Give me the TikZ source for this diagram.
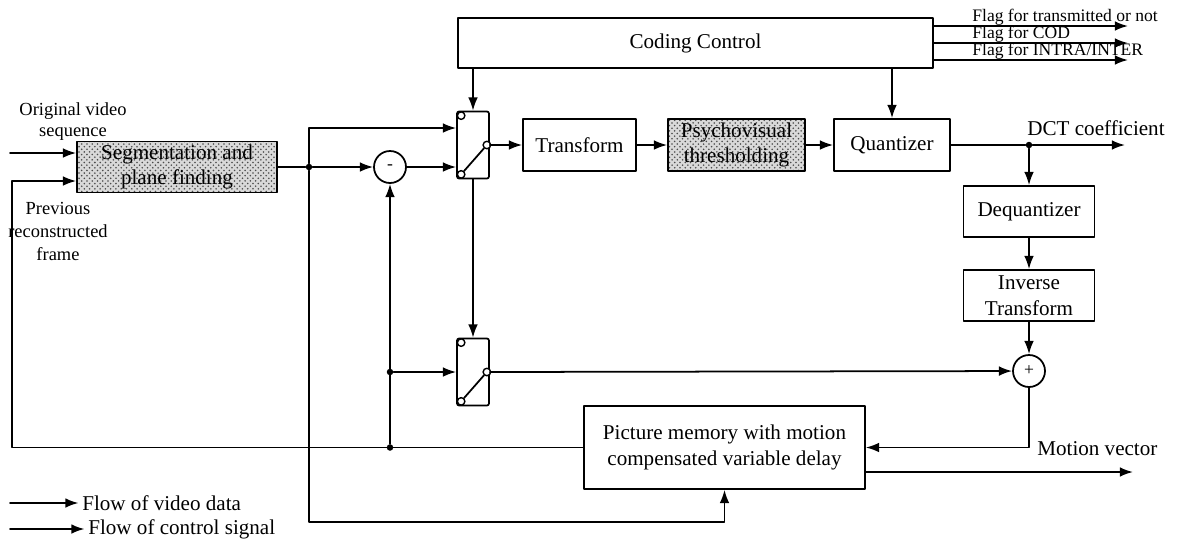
\documentclass[tikz,border=0pt]{standalone}
\usepackage{fontspec}
\setmainfont{Liberation Serif}
\usetikzlibrary{arrows.meta,patterns}

\begin{document}
\begin{tikzpicture}[x=0.02cm,y=-0.02cm,line cap=round,line join=round,>={Latex[length=7.5pt,width=5.5pt]},
  blk/.style={draw,line width=1pt,align=center,inner sep=0pt,font=\fontsize{12}{14.5}\selectfont},
  grain/.style={blk,preaction={fill=black!15},pattern=crosshatch dots,pattern color=black!70},
  swbox/.style={draw,line width=1pt,rounded corners=1.2pt,minimum width=0.64cm,minimum height=1.34cm,inner sep=0pt},
  pin/.style={circle,draw,line width=0.8pt,fill=white,inner sep=0pt,minimum size=0.15cm},
  sum/.style={circle,draw,line width=1pt,inner sep=0pt,minimum size=0.64cm,font=\fontsize{10}{10}\selectfont},
  dot/.style={circle,fill,inner sep=0pt,minimum size=0.13cm},
  flow/.style={line width=1pt,->},
  wire/.style={line width=1pt},
  lbl/.style={align=center,inner sep=0pt,font=\fontsize{10.5}{12}\selectfont},
  flagtxt/.style={anchor=base west,inner sep=0pt,font=\fontsize{10}{10}\selectfont},
  ttl/.style={inner sep=0pt,font=\fontsize{12}{14}\selectfont}]
  \useasboundingbox (0,0) rectangle (1180,542);

  % blocks
  \node[blk,minimum width=9.5cm,minimum height=1cm] (ctrl) at (695.5,43) {Coding Control};
  \node[grain,minimum width=4cm,minimum height=1.02cm] (seg) at (177,167) {Segmentation and\\plane finding};
  \node[blk,minimum width=2.26cm,minimum height=1.04cm] (tr) at (579.5,145) {Transform};
  \node[grain,minimum width=2.74cm,minimum height=1.04cm] (psy) at (736.5,145) {Psychovisual\\thresholding};
  \node[blk,minimum width=2.32cm,minimum height=1.04cm] (quant) at (892,145) {Quantizer};
  \node[blk,minimum width=2.62cm,minimum height=1.02cm] (deq) at (1029,211.5) {Dequantizer};
  \node[blk,minimum width=2.62cm,minimum height=1.02cm] (inv) at (1029,295.5) {Inverse\\Transform};
  \node[blk,minimum width=5.62cm,minimum height=1.66cm] (mem) at (724.5,447.5) {Picture memory with motion\\compensated variable delay};
  \node[sum] (minus) at (390,167) {-};
  \node[sum] (plus) at (1029,371) {+};

  % switches
  \node[swbox] (sw1) at (473,145) {};
  \node[pin] (s1a) at ([xshift=0.1cm,yshift=-0.1cm]sw1.north west) {};
  \node[pin] (s1b) at ([xshift=-0.06cm]sw1.east) {};
  \node[pin] (s1c) at ([xshift=0.1cm,yshift=0.1cm]sw1.south west) {};
  \draw[wire] (s1c) -- (s1b);
  \node[swbox] (sw2) at (473,372) {};
  \node[pin] (s2a) at ([xshift=0.1cm,yshift=-0.1cm]sw2.north west) {};
  \node[pin] (s2b) at ([xshift=-0.06cm]sw2.east) {};
  \node[pin] (s2c) at ([xshift=0.1cm,yshift=0.1cm]sw2.south west) {};
  \draw[wire] (s2c) -- (s2b);

  % junctions and free ends
  \node[dot] (j1) at (309,167) {};
  \node[dot] (j2) at (390,372) {};
  \node[dot] (j3) at (390,447.5) {};
  \node[dot] (jd) at (1029,145) {};
  \coordinate (vin) at (10,153);
  \coordinate (fb) at (12,181);
  \coordinate (cb) at (309,522);
  \coordinate (dctend) at (1125,145);
  \coordinate (mvend) at (1133,472);
  \coordinate (f1) at (1128,26);
  \coordinate (f2) at (1128,43);
  \coordinate (f3) at (1128,60);

  % connections
  \draw[flow] (vin) -- (vin -| seg.west);
  \draw[flow] (mem.west) -| (fb) -- (fb -| seg.west);
  \draw[wire] (seg.east) -- (j1);
  \draw[flow] (j1) -- (minus);
  \draw[flow] (j1) |- ([yshift=0.34cm]sw1.west);
  \draw[flow] (minus) -- (minus -| sw1.west);
  \draw[flow] (j1) -- (cb) -| (mem.south);
  \draw[flow] (ctrl.south -| sw1.north) -- (sw1.north);
  \draw[flow] (ctrl.south -| quant.north) -- (quant.north);
  \draw[flow] (sw1.east) -- (tr.west);
  \draw[flow] (tr) -- (psy);
  \draw[flow] (psy) -- (quant);
  \draw[wire] (quant) -- (jd);
  \draw[flow] (jd) -- (dctend);
  \draw[flow] (jd) -- (deq);
  \draw[flow] (deq) -- (inv);
  \draw[flow] (inv) -- (plus);
  \draw[flow] (sw1) -- (sw2);
  \draw[flow] (j2) -- (sw2);
  \draw[flow] (j3) -- (minus);
  \draw[flow] (sw2.east) -- (plus);
  \draw[flow] (plus) |- (mem.east);
  \draw[flow] ([yshift=-0.49cm]mem.east) -- (mvend);
  \draw[flow] (ctrl.east |- f1) -- (f1);
  \draw[flow] (ctrl.east |- f2) -- (f2);
  \draw[flow] (ctrl.east |- f3) -- (f3);

  % labels
  \node[flagtxt] (fl1) at (972,21) {Flag for transmitted or not};
  \node[flagtxt] (fl2) at (972,38) {Flag for COD};
  \node[flagtxt] (fl3) at (972,55) {Flag for INTRA/INTER};
  \node[ttl] (dct) at (1096,128) {DCT coefficient};
  \node[ttl,anchor=west] (mv) at (1037,449) {Motion vector};
  \node[lbl] (orig) at (73,122) {Original video\\sequence};
  \node[lbl,font=\fontsize{10.5}{13.3}\selectfont] (prev) at (58,231.5) {Previous\\reconstructed\\frame};

  % legend
  \coordinate (lg1) at (10,503);
  \coordinate (lg2) at (10,529);
  \node[ttl,anchor=west] (lgv) at (82,503) {Flow of video data};
  \node[ttl,anchor=west] (lgc) at (88,529) {Flow of control signal};
  \draw[flow] (lg1) -- ([xshift=-2pt]lgv.west);
  \draw[flow] (lg2) -- ([xshift=-2pt]lgc.west);
\end{tikzpicture}
\end{document}
